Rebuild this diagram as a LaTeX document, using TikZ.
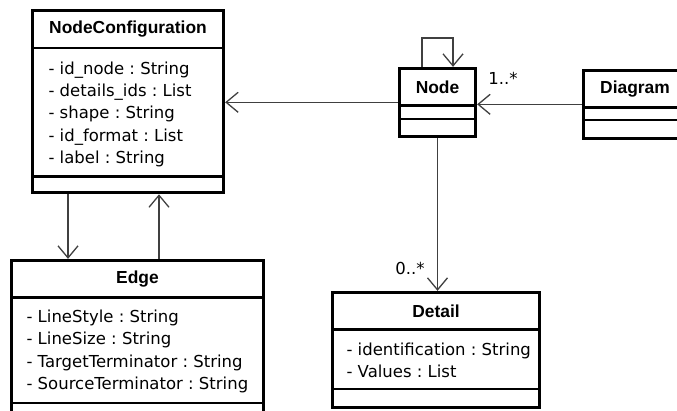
\documentclass[tikz,border=0pt]{standalone}
\usepackage{fontspec}
\setmainfont{DejaVu Sans}
\newfontfamily\titlefam{Liberation Sans}
\frenchspacing
\usetikzlibrary{arrows.meta,positioning,fit}

\tikzset{
    classname/.style={draw,line width=1.3pt,inner sep=0pt,minimum height=36pt,
        font=\titlefam\bfseries\fontsize{17.4}{20}\selectfont},
    compart/.style={draw,line width=1.3pt,inner sep=0pt},
    attrtext/.style={anchor=west,inner sep=0pt,align=left,
        font=\fontsize{16.5}{22.3}\selectfont},
    classbox/.style={draw,line width=3pt,inner sep=0pt},
    assoc/.style={draw=black!75,line width=1.3pt,-{Straight Barb[length=12pt,width=20pt]}},
    mult/.style={inner sep=0pt,font=\fontsize{16.5}{20}\selectfont}
}

\begin{document}
\begin{tikzpicture}[x=1pt,y=1pt]
    \useasboundingbox (0,0) rectangle (677,-410);
    \clip (0,0) rectangle (677,-410);

    % NodeConfiguration
    \node[classname,minimum width=190pt] (nc-name) at (128,-29.5) {NodeConfiguration};
    \node[compart,minimum width=190pt,minimum height=127pt,below=0pt of nc-name] (nc-attr) {};
    \node[compart,minimum width=190pt,minimum height=15pt,below=0pt of nc-attr] (nc-ops) {};
    \node[classbox,fit=(nc-name)(nc-ops)] (nodeconf) {};
    \node[attrtext] (nc-text) at ([xshift=16pt,yshift=-2pt]nc-attr.west)
        {- id\_node : String\\- details\_ids : List\\- shape : String\\- id\_format : List\\- label : String};

    % Edge
    \node[classname,minimum width=251pt] (edge-name) at (137.5,-279) {Edge};
    \node[compart,minimum width=251pt,minimum height=104pt,below=0pt of edge-name] (edge-attr) {};
    \node[compart,minimum width=251pt,minimum height=15pt,below=0pt of edge-attr] (edge-ops) {};
    \node[classbox,fit=(edge-name)(edge-ops)] (edgeclass) {};
    \node[attrtext] (edge-text) at ([xshift=15pt,yshift=-1pt]edge-attr.west)
        {- LineStyle : String\\- LineSize : String\\- TargetTerminator : String\\- SourceTerminator : String};

    % Node
    \node[classname,minimum width=75pt] (node-name) at (437.5,-87) {Node};
    \node[compart,minimum width=75pt,minimum height=12pt,below=0pt of node-name] (node-attr) {};
    \node[compart,minimum width=75pt,minimum height=16pt,below=0pt of node-attr] (node-ops) {};
    \node[classbox,fit=(node-name)(node-ops)] (nodeclass) {};

    % Diagram
    \node[classname,minimum width=102pt] (diag-name) at (635,-89) {Diagram};
    \node[compart,minimum width=102pt,minimum height=11pt,below=0pt of diag-name] (diag-attr) {};
    \node[compart,minimum width=102pt,minimum height=17pt,below=0pt of diag-attr] (diag-ops) {};
    \node[classbox,fit=(diag-name)(diag-ops)] (diagram) {};

    % Detail
    \node[classname,minimum width=206pt] (detail-name) at (436,-311) {Detail};
    \node[compart,minimum width=206pt,minimum height=58pt,below=0pt of detail-name] (detail-attr) {};
    \node[compart,minimum width=206pt,minimum height=17pt,below=0pt of detail-attr] (detail-ops) {};
    \node[classbox,fit=(detail-name)(detail-ops)] (detail) {};
    \node[attrtext] (detail-text) at ([xshift=14pt,yshift=-1pt]detail-attr.west)
        {- identification : String\\- Values : List};

    % Associations
    \draw[assoc] (nodeclass.west) -- (nodeclass.west -| nodeconf.east);
    \draw[assoc] (diagram.west) -- (diagram.west -| nodeclass.east);
    \draw[assoc] ([xshift=-15.5pt]nodeclass.north) -- ++(0,29) -| ([xshift=15.5pt]nodeclass.north);
    \draw[assoc] (nodeclass.south) -- (nodeclass.south |- detail.north);
    \draw[assoc] ([xshift=-60pt]nodeconf.south) -- ([xshift=-60pt]nodeconf.south |- edgeclass.north);
    \draw[assoc] ([xshift=31pt]nodeconf.south |- edgeclass.north) -- ([xshift=31pt]nodeconf.south);

    % Multiplicities
    \node[mult] (mult-diag) at (503,-78) {1..*};
    \node[mult] (mult-detail) at (410,-268) {0..*};
\end{tikzpicture}
\end{document}
